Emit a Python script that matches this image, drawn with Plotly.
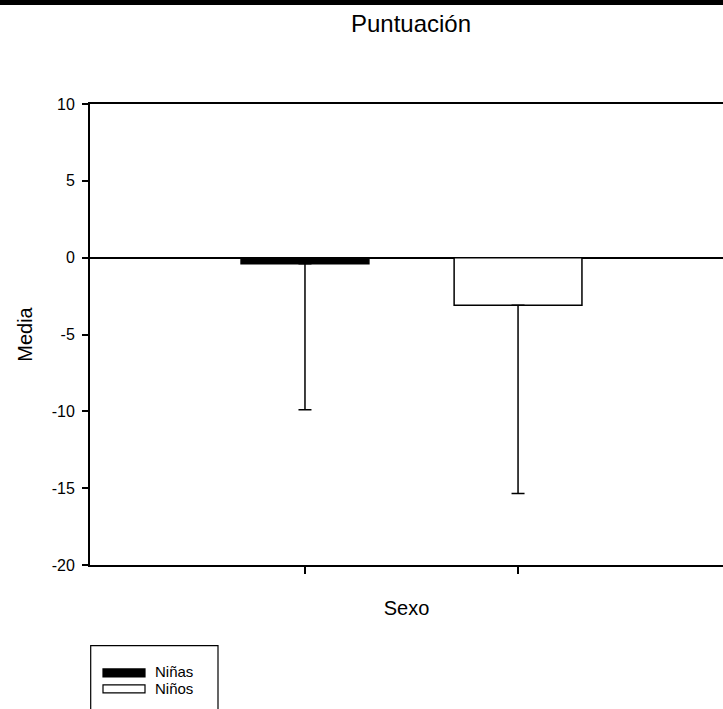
import plotly.graph_objects as go

# Data
categories = ["Niñas", "Niños"]
means = [-0.4, -3.1]
err_minus = [9.5, 12.25]
err_plus = [0, 0]
fills = ["black", "white"]
y_ticks = [-20, -15, -10, -5, 0, 5, 10]
y_tick_text = ["-20", "-15", "-10", "-5", "0", "5", "10"]

W, H = 723, 709
L, R, T, B = 90, 0, 103.5, 144
pw = W - L - R
ph = H - T - B

def px2x(px):
    return (px - L) / pw

def px2y(py):
    return (H - B - py) / ph

FONT = "Arial, 'Liberation Sans', sans-serif"

fig = go.Figure()
fig.add_trace(go.Bar(
    x=[0, 1], y=means, width=0.6,
    marker=dict(color=fills, line=dict(color="black", width=1.5)),
    error_y=dict(type="data", symmetric=False, array=err_plus, arrayminus=err_minus,
                 color="black", thickness=1.5, width=6.5),
    showlegend=False,
))

shapes = []
annotations = []
# black strip on top
shapes.append(dict(type="rect", xref="paper", yref="paper",
                   x0=px2x(-5), x1=px2x(W + 5), y0=px2y(4.5), y1=px2y(-5),
                   fillcolor="black", line=dict(width=0), layer="above"))
# legend box
shapes.append(dict(type="rect", xref="paper", yref="paper",
                   x0=px2x(90.7), x1=px2x(218), y0=px2y(720), y1=px2y(645.7),
                   fillcolor="rgba(0,0,0,0)", line=dict(color="black", width=1.2)))
sw_y = [(669, 677), (685, 693)]
txt_y = [672, 689]
for i, name in enumerate(categories):
    y0, y1 = sw_y[i]
    shapes.append(dict(type="rect", xref="paper", yref="paper",
                       x0=px2x(103), x1=px2x(145), y0=px2y(y1), y1=px2y(y0),
                       fillcolor=fills[i], line=dict(color="black", width=1.2)))
    annotations.append(dict(text=name, xref="paper", yref="paper",
                            x=px2x(153), y=px2y(txt_y[i]), xanchor="left", yanchor="middle",
                            showarrow=False, font=dict(family=FONT, size=15, color="black")))

fig.update_layout(
    width=W, height=H,
    margin=dict(l=L, r=R, t=T, b=B, pad=0),
    paper_bgcolor="white", plot_bgcolor="white",
    title=dict(text="Puntuación", x=411 / W, xref="container", xanchor="center",
               y=1 - 24 / H, yref="container", yanchor="middle",
               font=dict(family=FONT, size=24, color="black")),
    shapes=shapes, annotations=annotations,
    showlegend=False,
    bargap=0.4,
)
fig.update_xaxes(
    range=[-1.009, 1.962], showgrid=False, zeroline=False,
    showline=True, linecolor="black", linewidth=2, mirror=True,
    ticks="outside", ticklen=7, tickwidth=1.5, tickcolor="black",
    tickvals=[0, 1], showticklabels=False,
    title=dict(text="Sexo", standoff=28, font=dict(family=FONT, size=20, color="black")),
)
fig.update_yaxes(
    range=[-20, 10], showgrid=False,
    zeroline=True, zerolinecolor="black", zerolinewidth=1.5,
    showline=True, linecolor="black", linewidth=2,
    ticks="outside", ticklen=6, tickwidth=1.5, tickcolor="black",
    tickvals=y_ticks, ticktext=y_tick_text, ticklabelstandoff=4,
    tickfont=dict(family=FONT, size=16, color="black"),
    title=dict(text="Media", standoff=14, font=dict(family=FONT, size=20, color="black")),
)

fig.write_html("out.html")
